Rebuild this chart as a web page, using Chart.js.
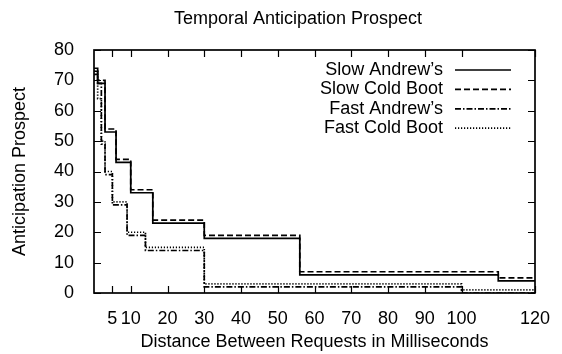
<!DOCTYPE html>
<html>
<head>
<meta charset="utf-8">
<script src="https://cdn.jsdelivr.net/npm/chart.js@4.4.0/dist/chart.umd.min.js"></script>
<style>
  html, body { margin: 0; padding: 0; background: #fff; }
  #wrap { width: 562px; height: 354px; }
</style>
</head>
<body>
<div id="wrap"><canvas id="c"></canvas></div>
<script>
// step boundaries (ms) and levels
const slowX = [0, 1, 3, 6, 10, 16, 30, 56, 110, 120];
const slowAndrews = [74, 69, 53, 43, 33, 23, 18, 6, 4, 4];
const slowColdBoot = [73, 70, 54, 44, 34, 24, 19, 7, 5, 5];
const fastX = [0, 1, 2, 3, 5, 9, 14, 30, 100, 120];
const fastAndrews = [72, 69, 49, 39, 29, 19, 14, 2, 0, 0];
const fastColdBoot = [73, 64, 50, 40, 30, 20, 15, 3, 1, 1];
const xTicks = [5, 10, 20, 30, 40, 50, 60, 70, 80, 90, 100, 120];
const yTicks = [0, 10, 20, 30, 40, 50, 60, 70, 80];

const FONT = '"Liberation Sans", Arial, Helvetica, sans-serif';

function pts(xs, ys) {
    return xs.map((x, i) => ({ x: x, y: ys[i] }));
}

function ds(label, xs, ys, dash) {
    return {
        label: label,
        data: pts(xs, ys),
        borderColor: '#000',
        borderWidth: 1.7,
        borderDash: dash,
        stepped: true,
        pointRadius: 0,
        fill: false
    };
}

// frame, inward mirror ticks, title and legend (gnuplot look)
const gnuFrame = {
    id: 'gnuFrame',
    afterDatasetsDraw(chart) {
        const { ctx, chartArea: a, scales: { x, y } } = chart;
        ctx.save();
        ctx.strokeStyle = '#000';
        ctx.lineWidth = 1.7;
        ctx.setLineDash([]);
        ctx.strokeRect(a.left, a.top, a.right - a.left, a.bottom - a.top);

        ctx.beginPath();
        xTicks.forEach(v => {
            const px = Math.round(x.getPixelForValue(v)) + 0.5;
            ctx.moveTo(px, a.bottom); ctx.lineTo(px, a.bottom - 7);
            ctx.moveTo(px, a.top); ctx.lineTo(px, a.top + 7);
        });
        yTicks.forEach(v => {
            const py = Math.round(y.getPixelForValue(v)) + 0.5;
            ctx.moveTo(a.left, py); ctx.lineTo(a.left + 7, py);
            ctx.moveTo(a.right, py); ctx.lineTo(a.right - 7, py);
        });
        ctx.lineWidth = 1.2;
        ctx.stroke();

        // title
        ctx.fillStyle = '#000';
        ctx.font = '18px ' + FONT;
        ctx.textAlign = 'center';
        ctx.textBaseline = 'middle';
        ctx.fillText('Temporal Anticipation Prospect', 298, 19);

        // legend: text right aligned, line sample on the right
        ctx.font = '18px ' + FONT;
        ctx.textAlign = 'right';
        chart.data.datasets.forEach((d, i) => {
            const ly = 70 + i * 19.4;
            ctx.fillText(d.label, 443, ly);
            ctx.beginPath();
            ctx.setLineDash(d.borderDash || []);
            ctx.lineWidth = d.borderWidth;
            ctx.moveTo(455, ly);
            ctx.lineTo(511, ly);
            ctx.stroke();
        });
        ctx.restore();
    }
};

new Chart(document.getElementById('c'), {
    type: 'line',
    data: {
        datasets: [
            ds("Slow Andrew\u2019s", slowX, slowAndrews, []),
            ds('Slow Cold Boot', slowX, slowColdBoot, [6, 3]),
            ds("Fast Andrew\u2019s", fastX, fastAndrews, [6, 2, 1.5, 2]),
            ds('Fast Cold Boot', fastX, fastColdBoot, [1.2, 1.8])
        ]
    },
    options: {
        responsive: true,
        maintainAspectRatio: false,
        animation: false,
        layout: { padding: { top: 50, right: 27, left: 0, bottom: 0 } },
        plugins: {
            legend: { display: false },
            tooltip: { enabled: false }
        },
        scales: {
            x: {
                type: 'linear',
                min: 0,
                max: 120,
                grid: { display: false },
                border: { display: false },
                afterBuildTicks: s => { s.ticks = xTicks.map(v => ({ value: v })); },
                afterFit: s => { s.height = 61; },
                ticks: {
                    color: '#000',
                    font: { family: FONT, size: 18 },
                    padding: 7,
                    autoSkip: false,
                    maxRotation: 0
                },
                title: {
                    display: true,
                    text: 'Distance Between Requests in Milliseconds',
                    color: '#000',
                    font: { family: FONT, size: 18 },
                    padding: { top: 0, bottom: 1 }
                }
            },
            y: {
                min: 0,
                max: 80,
                grid: { display: false },
                border: { display: false },
                afterBuildTicks: s => { s.ticks = yTicks.map(v => ({ value: v })); },
                afterFit: s => { s.width = 94; },
                ticks: {
                    color: '#000',
                    font: { family: FONT, size: 18 },
                    padding: 12
                },
                title: {
                    display: true,
                    text: 'Anticipation Prospect',
                    color: '#000',
                    font: { family: FONT, size: 18 },
                    padding: { top: 9, bottom: 0 }
                }
            }
        }
    },
    plugins: [gnuFrame]
});
</script>
</body>
</html>
